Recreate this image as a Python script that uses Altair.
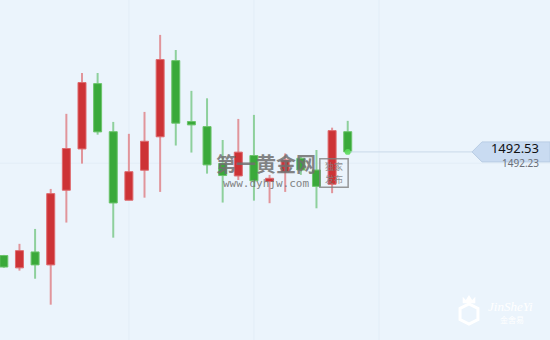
import altair as alt
import pandas as pd

# candle index (time slots)
idx = list(range(23))
opens = [1487.66, 1487.08, 1487.83, 1487.22, 1490.73, 1492.67, 1495.74, 1493.48, 1490.26, 1491.67, 1493.24, 1496.82,
         1493.96, 1493.72, 1491.99, 1491.40, 1492.36, 1491.14, 1491.59, 1492.23, 1491.68, 1491.01, 1493.48]
closes = [1487.12, 1487.89, 1487.22, 1490.57, 1492.69, 1495.79, 1493.47, 1490.13, 1491.60, 1493.03, 1496.87, 1493.88,
          1493.80, 1491.92, 1491.42, 1492.52, 1491.17, 1491.29, 1492.15, 1491.68, 1490.91, 1493.53, 1492.53]
highs = [1487.69, 1488.21, 1488.91, 1490.79, 1494.32, 1496.24, 1496.24, 1493.94, 1493.38, 1494.41, 1498.03, 1497.32,
         1495.40, 1495.05, 1493.09, 1494.08, 1494.27, 1491.45, 1492.46, 1492.31, 1492.62, 1493.67, 1493.99]
lows = [1487.08, 1486.95, 1486.57, 1485.35, 1489.21, 1491.98, 1493.34, 1488.50, 1490.26, 1490.38, 1490.65, 1492.83,
        1492.50, 1491.51, 1490.15, 1491.21, 1490.24, 1490.12, 1490.65, 1491.45, 1489.88, 1490.59, 1492.53]

grid_x = [8, 16, 24]
grid_y = [1492.0]
last_price = 1492.53
bid_price = 1492.23
last_label = "1492.53"
bid_label = "1492.23"

RED = "#cd3336"
RED_EDGE = "#de6a6e"
RED_WICK = "#e1959b"
GREEN = "#3aa93a"
GREEN_EDGE = "#6cc46c"
GREEN_WICK = "#8ed09c"
BG = "#ebf4fc"

df = pd.DataFrame({"i": idx, "open": opens, "close": closes, "high": highs, "low": lows})
xs = alt.Scale(domain=[0.075, 34.62], nice=False, zero=False)
ys = alt.Scale(domain=[1483.69, 1499.67], nice=False, zero=False)

up = "datum.close >= datum.open"

gx = alt.Chart(pd.DataFrame({"g": grid_x})).mark_rule(color="#e2edf7", strokeWidth=1).encode(
    x=alt.X("g:Q", scale=xs, axis=None))
gy = alt.Chart(pd.DataFrame({"g": grid_y})).mark_rule(color="#e2edf7", strokeWidth=1).encode(
    y=alt.Y("g:Q", scale=ys, axis=None))

base = alt.Chart(df)
wicks = base.mark_rule(strokeWidth=2, clip=True).encode(
    x=alt.X("i:Q", scale=xs, axis=None),
    y=alt.Y("low:Q", scale=ys, axis=None),
    y2="high:Q",
    color=alt.condition(up, alt.value(RED_WICK), alt.value(GREEN_WICK)),
)
bodies = base.mark_bar(size=8, strokeWidth=1, clip=True).encode(
    x=alt.X("i:Q", scale=xs, axis=None),
    y=alt.Y("open:Q", scale=ys, axis=None),
    y2="close:Q",
    fill=alt.condition(up, alt.value(RED), alt.value(GREEN)),
    stroke=alt.condition(up, alt.value(RED_EDGE), alt.value(GREEN_EDGE)),
)

last_df = pd.DataFrame({"i": [idx[-1]], "p": [last_price], "b": [bid_price],
                        "lt": [last_label], "bt": [bid_label]})
last = alt.Chart(last_df)
pline = last.mark_rule(color="#c9d9ea", strokeWidth=1).encode(
    x=alt.X("i:Q", scale=xs, axis=None), x2=alt.value(472),
    y=alt.Y("p:Q", scale=ys, axis=None))
dot = last.mark_point(filled=True, size=35, color="#5cdc5c", opacity=0.9).encode(
    x=alt.X("i:Q", scale=xs, axis=None), y=alt.Y("p:Q", scale=ys, axis=None))
tag = last.mark_point(
    shape="M -1 0 L -0.744 -0.256 L 1 -0.256 L 1 0.256 L -0.744 0.256 Z",
    size=6084, filled=True, fill="#c9dbf1", stroke="#b9cde4", strokeWidth=1, opacity=1,
).encode(x=alt.value(511), y=alt.Y("p:Q", scale=ys, axis=None))
tag_text = last.mark_text(align="right", baseline="middle", font="Noto Sans", fontSize=13,
                          color="#111111", dy=-3).encode(
    x=alt.value(539), y=alt.Y("p:Q", scale=ys, axis=None), text="lt:N")
bid_text = last.mark_text(align="right", baseline="middle", font="Noto Sans", fontSize=10,
                          color="#6b6f78", dy=12).encode(
    x=alt.value(539), y=alt.Y("p:Q", scale=ys, axis=None), text="bt:N")

# watermark overlays
wm1 = alt.Chart(pd.DataFrame({"t": ["第一黄金网"]})).mark_text(
    font="Noto Sans CJK SC", fontSize=20, fontWeight="bold", color="#707070",
    opacity=0.85, align="center", baseline="middle").encode(
    x=alt.value(266), y=alt.value(166), text="t:N")
wm2 = alt.Chart(pd.DataFrame({"t": ["www.dyhjw.com"]})).mark_text(
    font="DejaVu Sans Mono", fontSize=11, color="#707070", opacity=0.85, align="center",
    baseline="middle").encode(x=alt.value(266), y=alt.value(184), text="t:N")
stamp_box = alt.Chart(pd.DataFrame({"t": [1]})).mark_point(
    shape="square", size=800, filled=False, stroke="#808080", strokeWidth=1.5, opacity=0.8).encode(
    x=alt.value(334), y=alt.value(173))
stamp_txt = alt.Chart(pd.DataFrame({"t": ["独家", "发布"], "yy": [167, 180]})).mark_text(
    font="Noto Sans CJK SC", fontSize=9, color="#808080", opacity=0.85, align="center",
    baseline="middle").encode(x=alt.value(334), y=alt.Y("yy:Q", scale=None), text="t:N")

logo1 = alt.Chart(pd.DataFrame({"t": ["JinSheYi"]})).mark_text(
    font="Liberation Serif", fontSize=13, fontStyle="italic", color="#ffffff", align="left",
    baseline="middle").encode(x=alt.value(488), y=alt.value(307), text="t:N")
logo2 = alt.Chart(pd.DataFrame({"t": ["金舍易"]})).mark_text(
    font="Noto Sans CJK SC", fontSize=8, color="#ffffff", align="center",
    baseline="middle").encode(x=alt.value(512), y=alt.value(321), text="t:N")
shield = alt.Chart(pd.DataFrame({"t": [1]})).mark_point(
    shape="M -0.8 -0.5 L 0 -0.9 L 0.8 -0.5 L 0.8 0.5 L 0 0.9 L -0.8 0.5 Z",
    size=500, filled=False, stroke="#ffffff", strokeWidth=3, opacity=1).encode(
    x=alt.value(469), y=alt.value(314))
crown = alt.Chart(pd.DataFrame({"t": [1]})).mark_point(
    shape="M -1 0.5 L -1 -0.5 L -0.5 0 L 0 -0.8 L 0.5 0 L 1 -0.5 L 1 0.5 Z",
    size=160, filled=True, fill="#ffffff", opacity=1).encode(x=alt.value(469), y=alt.value(300))

chart = alt.layer(
    gx, gy, wicks, bodies, pline, dot, tag, tag_text, bid_text,
    wm1, wm2, stamp_box, stamp_txt, shield, crown, logo1, logo2,
).properties(
    width=550, height=340, background=BG, padding=0, autosize="none"
).configure_view(strokeWidth=0, fill=BG)

chart.save("out.html", embed_options={"renderer": "svg", "actions": False})
